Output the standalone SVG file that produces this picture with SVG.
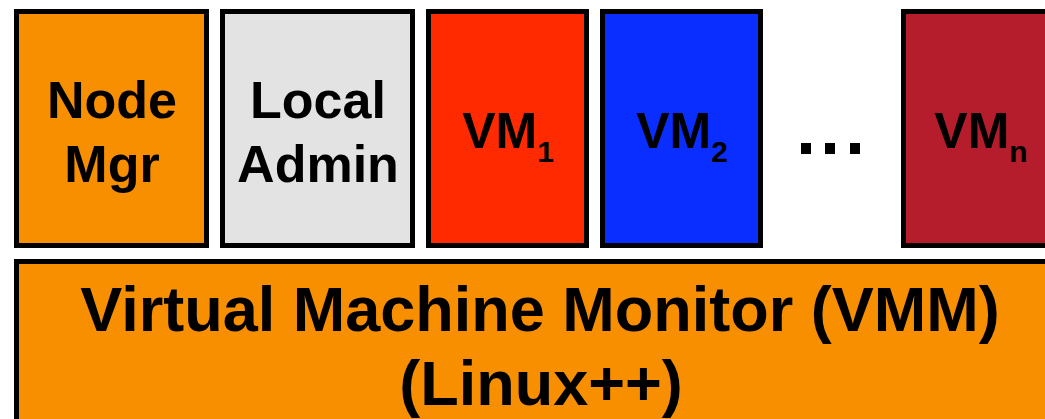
<svg xmlns="http://www.w3.org/2000/svg" width="1045" height="419" viewBox="0 0 1045 419">
<style>
.box{stroke:#000;stroke-width:5}
.t{font-family:"Liberation Sans",Arial,sans-serif;font-weight:bold;fill:#000;text-anchor:middle}
.s{font-size:52px}
.v{font-size:50px}
.sub{font-size:30px}
.b{font-size:63px}
</style>
<rect width="1045" height="419" fill="#fff"/>
<g id="node-mgr">
<rect class="box" x="16.5" y="11.5" width="190" height="234" fill="#F78F00"/>
<text class="t s" x="112" y="118">Node</text>
<text class="t s" x="112" y="182">Mgr</text>
</g>
<g id="local-admin">
<rect class="box" x="222.5" y="11.5" width="190" height="234" fill="#E3E3E3"/>
<text class="t s" x="318" y="118">Local</text>
<text class="t s" x="318" y="182">Admin</text>
</g>
<g id="vm1">
<rect class="box" x="428.5" y="11.5" width="158" height="234" fill="#FF2A00"/>
<text class="t v" x="508" y="148">VM<tspan class="sub" dy="14">1</tspan></text>
</g>
<g id="vm2">
<rect class="box" x="602.5" y="11.5" width="158" height="234" fill="#0A2EFF"/>
<text class="t v" x="682" y="148">VM<tspan class="sub" dy="14">2</tspan></text>
</g>
<g id="dots">
<rect x="801" y="143" width="10" height="11" fill="#000"/>
<rect x="825" y="143" width="10" height="11" fill="#000"/>
<rect x="850" y="143" width="10" height="11" fill="#000"/>
</g>
<g id="vmn">
<rect class="box" x="903.5" y="11.5" width="158" height="234" fill="#B51C2C"/>
<text class="t v" x="981" y="148">VM<tspan class="sub" dy="14">n</tspan></text>
</g>
<g id="vmm">
<rect class="box" x="16.5" y="261.5" width="1060" height="200" fill="#F78F00"/>
<text class="t b" x="540" y="331">Virtual Machine Monitor (VMM)</text>
<text class="t b" x="541" y="405">(Linux++)</text>
</g>
<g id="connectors"/>
</svg>
